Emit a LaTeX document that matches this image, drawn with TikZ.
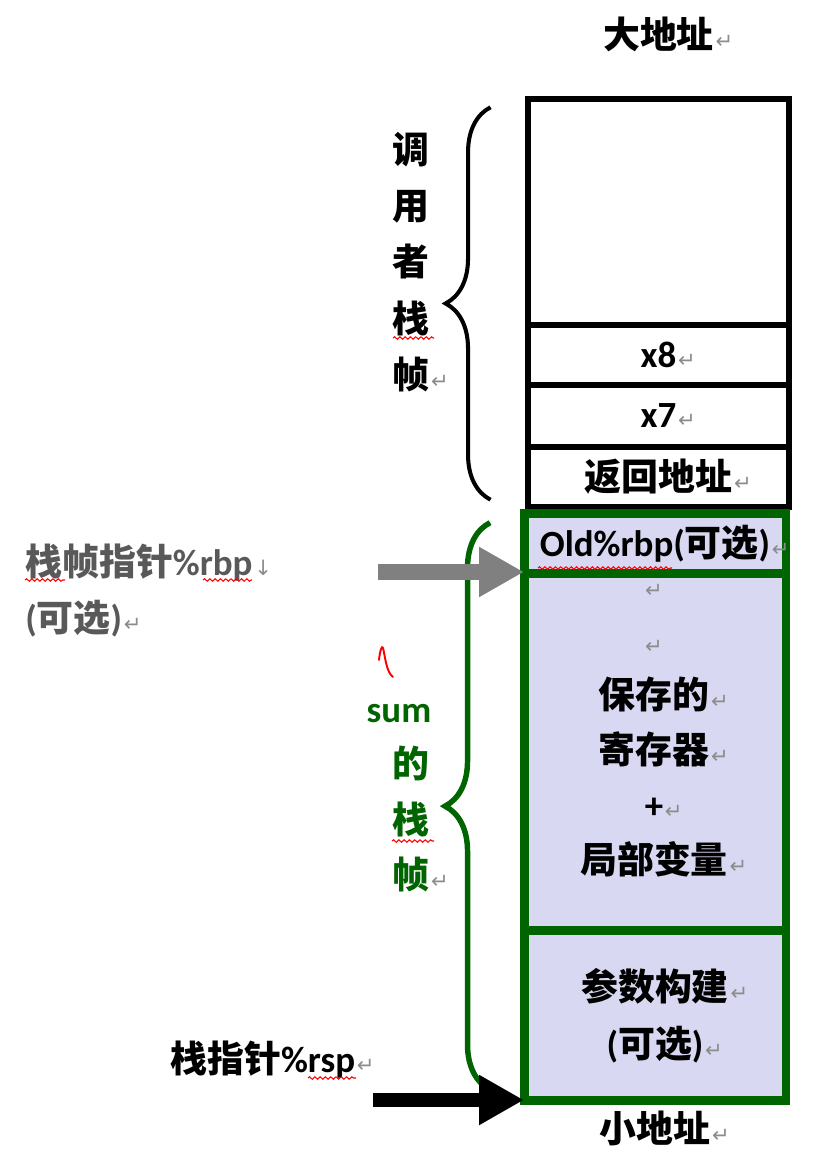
\documentclass[tikz,border=0pt]{standalone}
\usepackage{fontspec}
\setmainfont{Noto Sans CJK SC}
\newfontfamily\latfont{Carlito}
\newfontfamily\symfont{DejaVu Sans}
\usetikzlibrary{positioning,calc,arrows.meta,decorations.pathreplacing,decorations.pathmorphing}

\definecolor{framegreen}{RGB}{0,100,0}
\definecolor{cellfill}{RGB}{216,216,242}
\definecolor{markgray}{RGB}{140,140,140}
\definecolor{labelgray}{RGB}{89,89,89}
\definecolor{arrowgray}{RGB}{128,128,128}

% Latin runs and Word paragraph marks
\newcommand{\lat}[1]{{\latfont #1}}
\newcommand{\cmark}{{\symfont\mdseries\fontsize{12}{12}\selectfont\textcolor{markgray}{↵}}}
\newcommand{\pmark}{\rlap{\kern1pt\cmark}}
\newcommand{\dmark}{\rlap{\kern1pt{\symfont\mdseries\fontsize{12}{12}\selectfont\textcolor{markgray}{↓}}}}

\begin{document}
\begin{tikzpicture}[
    x=0.02cm, y=-0.02cm,
    font=\bfseries\fontsize{21}{32}\selectfont,
    cell/.style={rectangle, draw=black, line width=3.4pt, outer sep=0pt, inner sep=0pt,
                 minimum width=5.24cm, align=center},
    gcell/.style={rectangle, draw=framegreen, fill=cellfill, line width=5.1pt, outer sep=0pt,
                 inner sep=0pt, minimum width=5.24cm, align=center},
    lbl/.style={inner sep=0pt, align=center},
    fatarrow/.style={line width=#1, -{Triangle[length=0.9cm, width=0.94cm]}},
    curly/.style={decorate, decoration={brace, amplitude=0.9cm}, line width=2.3pt},
    wavy/.style={red, line width=0.6pt, decorate, decoration={snake, amplitude=0.7pt, segment length=3pt}}
]
    \useasboundingbox (0,0) rectangle (833,1160);

    % caller frame
    \node[cell, minimum height=4.51cm] (caller) at (658.5,212) {};
    \node[cell, minimum height=1.2cm, below=0pt of caller] (xeight) {\lat{x8}\pmark};
    \node[cell, minimum height=1.24cm, below=0pt of xeight] (xseven) {\lat{x7}\pmark};
    \node[cell, minimum height=1.2cm, below=0pt of xseven] (retaddr) {返回地址\pmark};

    % frame of sum
    \node[gcell, minimum height=1.2cm, below=0.14cm of retaddr, xshift=-0.07cm] (oldrbp) {\lat{Old\%rbp(}可选\lat{)}\pmark};
    \node[gcell, minimum height=7.14cm, below=0pt of oldrbp] (saved) {};
    \node[gcell, minimum height=3.4cm, below=0pt of saved] (args) {参数构建\pmark\\\lat{(}可选\lat{)}\pmark};
    \node[lbl, font=\bfseries\fontsize{21}{31.4}\selectfont] (savedtxt) at (654,731)
        {\cmark\\\cmark\\保存的\pmark\\寄存器\pmark\\\lat{+}\pmark\\局部变量\pmark};

    \node[lbl, above=0.95cm of caller] (high) {大地址\pmark};
    \node[lbl, below=0.2cm of args] (low) {小地址\pmark};

    % braces
    \draw[curly] ($(retaddr.south west)+(-37,-7)$) -- ($(caller.north west)+(-37,8)$);
    \draw[curly, framegreen, line width=3.1pt] ($(args.south west)+(-34,-11)$) -- ($(oldrbp.north west)+(-34,9)$);
    \node[lbl] (callerlbl) at (411,262) {调\\用\\者\\栈\\帧\pmark};
    \node[lbl, text=framegreen, font=\bfseries\fontsize{21}{31.5}\selectfont] (sumlbl) at (411,798)
        {\hspace*{-0.48cm}\lat{sum}\\的\\栈\\帧\pmark};

    % pointers
    \node[lbl, anchor=west, text=labelgray] (rbplbl) at (25,563) {栈帧指针\lat{\%rbp}\dmark};
    \node[lbl, anchor=west, text=labelgray] (rbpopt) at (25,619) {\lat{(}可选\lat{)}\pmark};
    \node[lbl, anchor=west] (rsplbl) at (170,1060) {栈指针\lat{\%rsp}\pmark};
    \coordinate (rbptail) at (378,572);
    \coordinate (rsptail) at (373,1100);
    \draw[fatarrow=9.6pt, arrowgray] (rbptail) -- (rbptail -| oldrbp.west);
    \draw[fatarrow=8.5pt, black] (rsptail) -- (rsptail -| args.west);

    % spell check marks
    \draw[wavy] (25,580) -- (65,580);
    \draw[wavy] (203,580) -- (252,580);
    \draw[wavy] (393,338) -- (434,338);
    \draw[wavy] (392,841) -- (434,841);
    \draw[wavy] (538,568) -- (672,568);
    \draw[wavy] (308,1078) -- (356,1078);
    \draw[red, line width=1.1pt, line cap=round] (379,660) .. controls (380,650) and (382,645) .. (383,648)
        .. controls (385,655) and (386,672) .. (393,677);
\end{tikzpicture}
\end{document}
